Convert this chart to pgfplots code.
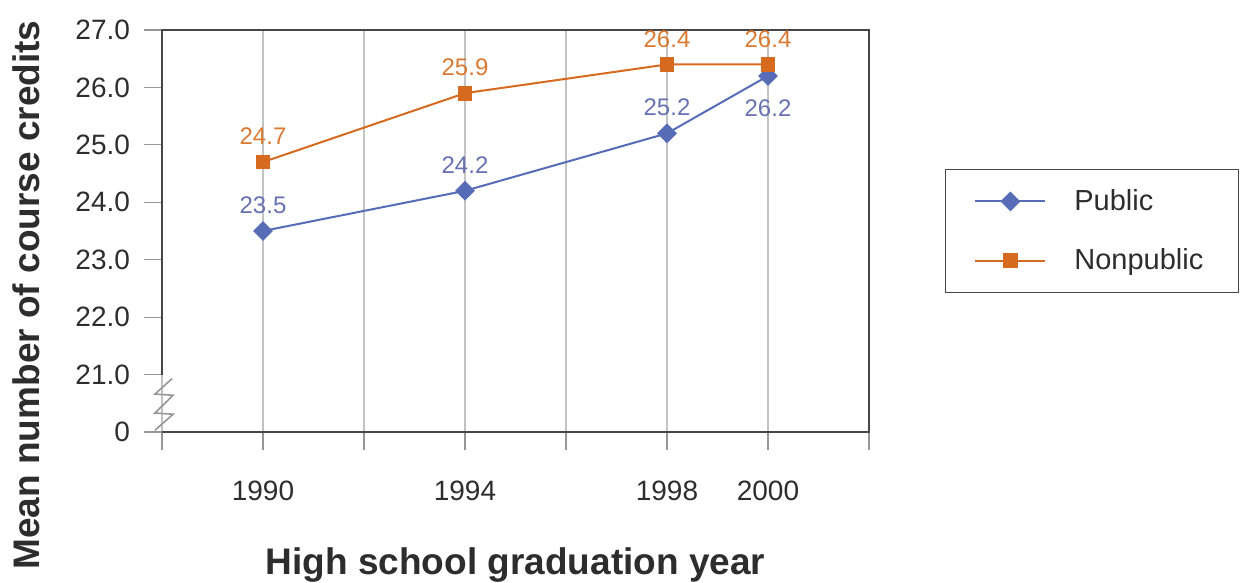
\documentclass[border=0pt]{standalone}
\usepackage{pgfplots}
\pgfplotsset{compat=1.18}
\usepackage{fontspec}
\setmainfont{Liberation Sans}

\definecolor{pubblue}{RGB}{86,108,182}
\definecolor{pubtext}{RGB}{104,114,178}
\definecolor{nporange}{RGB}{214,106,30}
\definecolor{nptext}{RGB}{218,122,50}
\definecolor{framegray}{RGB}{70,70,70}
\definecolor{gridgray}{RGB}{195,195,195}
\definecolor{tickgray}{RGB}{150,150,150}
\definecolor{labelgray}{RGB}{45,45,45}

% year, mean credits, label offset (pt)
\pgfplotstableread{
year  y     dy
1990  23.5  13
1994  24.2  13
1998  25.2  13
2000  26.2  -16
}\public
\pgfplotstableread{
year  y     dy
1990  24.7  13
1994  25.9  13
1998  26.4  12.5
2000  26.4  12.5
}\nonpublic

\begin{document}
\begin{tikzpicture}
\begin{axis}[
  scale only axis, width=353.5pt, height=201pt,
  xmin=1988, xmax=2002, ymin=20, ymax=27,
  clip=false,
  axis line style={draw=none},
  xtick={1988,1990,...,2002},
  xticklabels={,1990,,1994,,1998,2000,},
  ytick={20,...,27},
  yticklabels={0,21.0,22.0,23.0,24.0,25.0,26.0,27.0},
  xtick pos=bottom, ytick pos=left,
  tick align=outside,
  major tick length=9pt,
  major tick style={tickgray, line width=0.6pt},
  xmajorgrids=true,
  major grid style={gridgray, line width=0.6pt},
  tick label style={font=\fontsize{14}{16}\selectfont, text=labelgray},
  xticklabel style={yshift=-12pt},
  yticklabel style={xshift=-3.5pt},
  /pgf/number format/assume math mode=true,
  xlabel={High school graduation year},
  ylabel={Mean number of course credits},
  xlabel style={at={(rel axis cs:0.5,-0.3308)}, anchor=center,
    font=\bfseries\fontsize{18.5}{22}\selectfont, text=labelgray},
  ylabel style={at={(rel axis cs:-0.1924,0.3408)}, anchor=center,
    font=\bfseries\fontsize{18.5}{22}\selectfont, text=labelgray},
  nodes near coords,
  point meta=y,
  nodes near coords style={/pgf/number format/fixed, /pgf/number format/fixed zerofill,
    /pgf/number format/precision=1},
  visualization depends on={\thisrow{dy} \as \labdy},
  every node near coord/.append style={anchor=center, yshift=\labdy pt, font=\fontsize{12}{14}\selectfont},
  legend image code/.code={\draw[mark repeat=2,mark phase=2,#1] plot coordinates {(0pt,0pt) (17.5pt,0pt) (35pt,0pt)};},
  legend cell align=left,
  legend style={at={(rel axis cs:1.1075,0.5)}, anchor=west, draw=framegray,
    font=\fontsize{14.5}{17}\selectfont, text=labelgray,
    inner xsep=14.5pt, inner ysep=8pt, row sep=13.5pt,
    /tikz/every odd column/.append style={column sep=12pt}},
]
\addplot[pubblue, line width=1pt, mark=square*, mark size=3pt,
  mark options={rotate=45, fill=pubblue},
  every node near coord/.append style={text=pubtext}]
  table[x=year, y=y] {\public};
\addlegendentry{Public}
\addplot[nporange, line width=1pt, mark=square*, mark size=3.2pt,
  mark options={fill=nporange},
  every node near coord/.append style={text=nptext}]
  table[x=year, y=y] {\nonpublic};
\addlegendentry{Nonpublic\hspace*{1pt}}

% frame with a broken left axis
\draw[framegray, line width=1.1pt] (axis cs:1988,21) -- (axis cs:1988,27)
  -- (axis cs:2002,27) -- (axis cs:2002,20) -- (axis cs:1988,20);
\draw[tickgray, line width=0.8pt] (axis cs:1988.2,20.93) -- (axis cs:1987.86,20.66)
  -- (axis cs:1988.22,20.64) -- (axis cs:1987.86,20.33) -- (axis cs:1988.22,20.31)
  -- (axis cs:1987.86,20.03);
\end{axis}
\pgfresetboundingbox
\path[use as bounding box] (-81pt,-75.5pt) rectangle (540.5pt,216pt);
\end{tikzpicture}
\end{document}
